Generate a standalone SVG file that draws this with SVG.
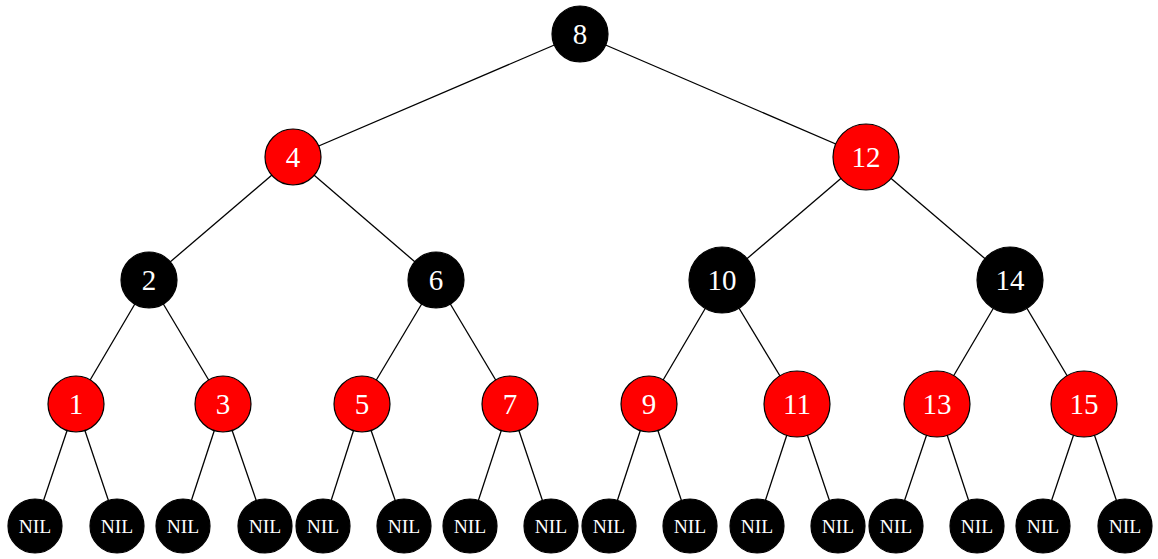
<svg xmlns="http://www.w3.org/2000/svg" width="1158" height="559" viewBox="0 0 1158 559">
<style>
.e{stroke:#000;stroke-width:1.3;fill:none}
.b{fill:#000;stroke:#000;stroke-width:1.2}
.r{fill:#ff0000;stroke:#000;stroke-width:1.2}
.t{fill:#fff;font-family:"Liberation Serif","DejaVu Serif",serif;font-size:29px;text-anchor:middle;dominant-baseline:central}
.n{fill:#fff;font-family:"Liberation Serif","DejaVu Serif",serif;font-size:19.5px;text-anchor:middle;dominant-baseline:central}
</style>
<rect width="1158" height="559" fill="#fff"/>
<g id="edges">
<line class="e" x1="580" y1="34" x2="293" y2="157"/>
<line class="e" x1="580" y1="34" x2="866" y2="157"/>
<line class="e" x1="293" y1="157" x2="149" y2="280"/>
<line class="e" x1="293" y1="157" x2="436" y2="280"/>
<line class="e" x1="866" y1="157" x2="722" y2="280"/>
<line class="e" x1="866" y1="157" x2="1010" y2="280"/>
<line class="e" x1="149" y1="280" x2="76" y2="404"/>
<line class="e" x1="149" y1="280" x2="223" y2="404"/>
<line class="e" x1="436" y1="280" x2="362" y2="404"/>
<line class="e" x1="436" y1="280" x2="510" y2="404"/>
<line class="e" x1="722" y1="280" x2="649" y2="404"/>
<line class="e" x1="722" y1="280" x2="797" y2="404"/>
<line class="e" x1="1010" y1="280" x2="937" y2="404"/>
<line class="e" x1="1010" y1="280" x2="1084" y2="404"/>
<line class="e" x1="76" y1="404" x2="35" y2="526"/>
<line class="e" x1="76" y1="404" x2="117" y2="526"/>
<line class="e" x1="223" y1="404" x2="183" y2="526"/>
<line class="e" x1="223" y1="404" x2="265" y2="526"/>
<line class="e" x1="362" y1="404" x2="323" y2="526"/>
<line class="e" x1="362" y1="404" x2="404" y2="526"/>
<line class="e" x1="510" y1="404" x2="470" y2="526"/>
<line class="e" x1="510" y1="404" x2="551" y2="526"/>
<line class="e" x1="649" y1="404" x2="609" y2="526"/>
<line class="e" x1="649" y1="404" x2="690" y2="526"/>
<line class="e" x1="797" y1="404" x2="757" y2="526"/>
<line class="e" x1="797" y1="404" x2="838" y2="526"/>
<line class="e" x1="937" y1="404" x2="896" y2="526"/>
<line class="e" x1="937" y1="404" x2="977" y2="526"/>
<line class="e" x1="1084" y1="404" x2="1043" y2="526"/>
<line class="e" x1="1084" y1="404" x2="1125" y2="526"/>
</g>
<g id="n8"><circle class="b" cx="580" cy="34" r="28"/><text class="t" x="580" y="34">8</text></g>
<g id="n4"><circle class="r" cx="293" cy="157" r="28"/><text class="t" x="293" y="157">4</text></g>
<g id="n12"><circle class="r" cx="866" cy="157" r="33"/><text class="t" x="866" y="157">12</text></g>
<g id="n2"><circle class="b" cx="149" cy="280" r="28"/><text class="t" x="149" y="280">2</text></g>
<g id="n6"><circle class="b" cx="436" cy="280" r="28"/><text class="t" x="436" y="280">6</text></g>
<g id="n10"><circle class="b" cx="722" cy="280" r="33"/><text class="t" x="722" y="280">10</text></g>
<g id="n14"><circle class="b" cx="1010" cy="280" r="33"/><text class="t" x="1010" y="280">14</text></g>
<g id="n1"><circle class="r" cx="76" cy="404" r="28"/><text class="t" x="76" y="404">1</text></g>
<g id="n3"><circle class="r" cx="223" cy="404" r="28"/><text class="t" x="223" y="404">3</text></g>
<g id="n5"><circle class="r" cx="362" cy="404" r="28"/><text class="t" x="362" y="404">5</text></g>
<g id="n7"><circle class="r" cx="510" cy="404" r="28"/><text class="t" x="510" y="404">7</text></g>
<g id="n9"><circle class="r" cx="649" cy="404" r="28"/><text class="t" x="649" y="404">9</text></g>
<g id="n11"><circle class="r" cx="797" cy="404" r="33"/><text class="t" x="797" y="404">11</text></g>
<g id="n13"><circle class="r" cx="937" cy="404" r="33"/><text class="t" x="937" y="404">13</text></g>
<g id="n15"><circle class="r" cx="1084" cy="404" r="33"/><text class="t" x="1084" y="404">15</text></g>
<g id="nil1"><circle class="b" cx="35" cy="526" r="27"/><text class="n" x="35" y="526">NIL</text></g>
<g id="nil2"><circle class="b" cx="117" cy="526" r="27"/><text class="n" x="117" y="526">NIL</text></g>
<g id="nil3"><circle class="b" cx="183" cy="526" r="27"/><text class="n" x="183" y="526">NIL</text></g>
<g id="nil4"><circle class="b" cx="265" cy="526" r="27"/><text class="n" x="265" y="526">NIL</text></g>
<g id="nil5"><circle class="b" cx="323" cy="526" r="27"/><text class="n" x="323" y="526">NIL</text></g>
<g id="nil6"><circle class="b" cx="404" cy="526" r="27"/><text class="n" x="404" y="526">NIL</text></g>
<g id="nil7"><circle class="b" cx="470" cy="526" r="27"/><text class="n" x="470" y="526">NIL</text></g>
<g id="nil8"><circle class="b" cx="551" cy="526" r="27"/><text class="n" x="551" y="526">NIL</text></g>
<g id="nil9"><circle class="b" cx="609" cy="526" r="27"/><text class="n" x="609" y="526">NIL</text></g>
<g id="nil10"><circle class="b" cx="690" cy="526" r="27"/><text class="n" x="690" y="526">NIL</text></g>
<g id="nil11"><circle class="b" cx="757" cy="526" r="27"/><text class="n" x="757" y="526">NIL</text></g>
<g id="nil12"><circle class="b" cx="838" cy="526" r="27"/><text class="n" x="838" y="526">NIL</text></g>
<g id="nil13"><circle class="b" cx="896" cy="526" r="27"/><text class="n" x="896" y="526">NIL</text></g>
<g id="nil14"><circle class="b" cx="977" cy="526" r="27"/><text class="n" x="977" y="526">NIL</text></g>
<g id="nil15"><circle class="b" cx="1043" cy="526" r="27"/><text class="n" x="1043" y="526">NIL</text></g>
<g id="nil16"><circle class="b" cx="1125" cy="526" r="27"/><text class="n" x="1125" y="526">NIL</text></g>
</svg>
